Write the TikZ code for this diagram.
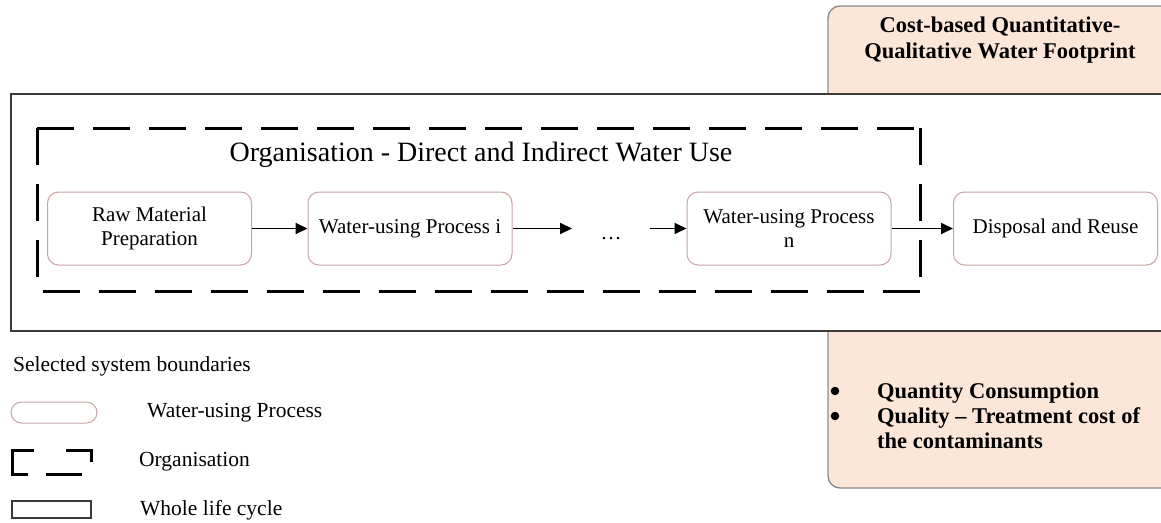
\documentclass[tikz,border=0pt]{standalone}
\usepackage{fontspec}
\setmainfont{Liberation Serif}
\usetikzlibrary{arrows.meta}
\definecolor{peach}{HTML}{FBE6D8}
\definecolor{peachedge}{HTML}{8C8C8C}
\definecolor{boxc}{HTML}{C9A3A3}
\definecolor{lifec}{HTML}{3A3A3A}
\tikzset{
  proc/.style={draw=boxc, rounded corners=11pt, minimum width=204pt, minimum height=73pt,
    inner sep=0pt, align=center, font=\fontsize{21}{24}\selectfont, line width=1pt},
  flow/.style={line width=1.9pt, -{Triangle[length=12pt,width=11pt]}},
  orgline/.style={line width=3pt, dash pattern=on 37pt off 19pt},
  legtext/.style={anchor=west, inner sep=0pt, font=\fontsize{21.5}{24}\selectfont},
  boldtext/.style={inner sep=0pt, font=\fontsize{22.5}{26}\selectfont\bfseries},
  bulletdot/.style={circle, fill=black, inner sep=0pt, minimum size=8.5pt}
}
\begin{document}
\begin{tikzpicture}[x=1pt,y=-1pt]
\useasboundingbox (0,0) rectangle (1161,522);
\begin{scope}
  \clip (0,0) rectangle (1161,522);
  % peach background box
  \draw[fill=peach, draw=peachedge, line width=1.4pt, rounded corners=12pt] (828,6) rectangle (1190,488);
  % whole life cycle rectangle
  \draw[fill=white, draw=lifec, line width=2.2pt] (11,94) rectangle (1190,331);
\end{scope}
% peach title
\node[boldtext, align=center] (title) at (1000,40) {Cost-based Quantitative-\\Qualitative Water Footprint};
% organisation dashed boundary
\coordinate (o1) at (37,128);
\coordinate (o2) at (920,128);
\coordinate (o3) at (920,291);
\coordinate (o4) at (37,291);
\draw[orgline] (o1) -- (o4);
\draw[orgline] (o2) -- (o3);
\draw[orgline] (o1) -- (o2);
\draw[orgline, dash phase=-6pt] (o4) -- (o3);
\node[inner sep=0pt, font=\fontsize{28}{30}\selectfont] (orgtitle) at (481,155) {Organisation - Direct and Indirect Water Use};
% processes
\node[proc] (raw) at (149.5,228.5) {Raw Material\\Preparation};
\node[proc] (pi) at (410,228.5) {Water-using Process i};
\node[proc] (pn) at (789,228.5) {Water-using Process\\n};
\node[proc] (disp) at (1055.5,228.5) {Disposal and Reuse};
\coordinate (a2) at (572,228.5);
\coordinate (a3) at (650,228.5);
\node[inner sep=0pt, anchor=base, font=\fontsize{21}{24}\selectfont] (dots) at (611,239) {\ldots};
\draw[flow] (raw.east) -- (pi.west);
\draw[flow] (pi.east) -- (a2);
\draw[flow] (a3) -- (pn.west);
\draw[flow] (pn.east) -- (disp.west);
% bullet list
\node[bulletdot] (b1) at (835,391) {};
\node[bulletdot] (b2) at (835,416) {};
\node[boldtext, anchor=base west] (l1) at (877,398) {Quantity Consumption};
\node[boldtext, anchor=base west] (l2) at (877,423) {Quality – Treatment cost of};
\node[boldtext, anchor=base west] (l3) at (877,448) {the contaminants};
% legend
\node[legtext] (lg0) at (13,366) {Selected system boundaries};
\node[draw=boxc, line width=1pt, rounded corners=10.5pt, minimum width=86pt, minimum height=21pt, inner sep=0pt] (lgp) at (54,412.5) {};
\node[legtext] (lg1) at (147,413) {Water-using Process};
\draw[line width=3pt] (28,474) -- (12,474) -- (12,450) -- (34,450);
\draw[line width=3pt] (66,450) -- (91,450) -- (91,462);
\draw[line width=3pt] (46,474) -- (82,474);
\node[legtext] (lg2) at (139,462) {Organisation};
\node[draw=lifec, line width=1.8pt, minimum width=79pt, minimum height=17pt, inner sep=0pt] (lgw) at (51.5,509.5) {};
\node[legtext] (lg3) at (140,510) {Whole life cycle};
\end{tikzpicture}
\end{document}
